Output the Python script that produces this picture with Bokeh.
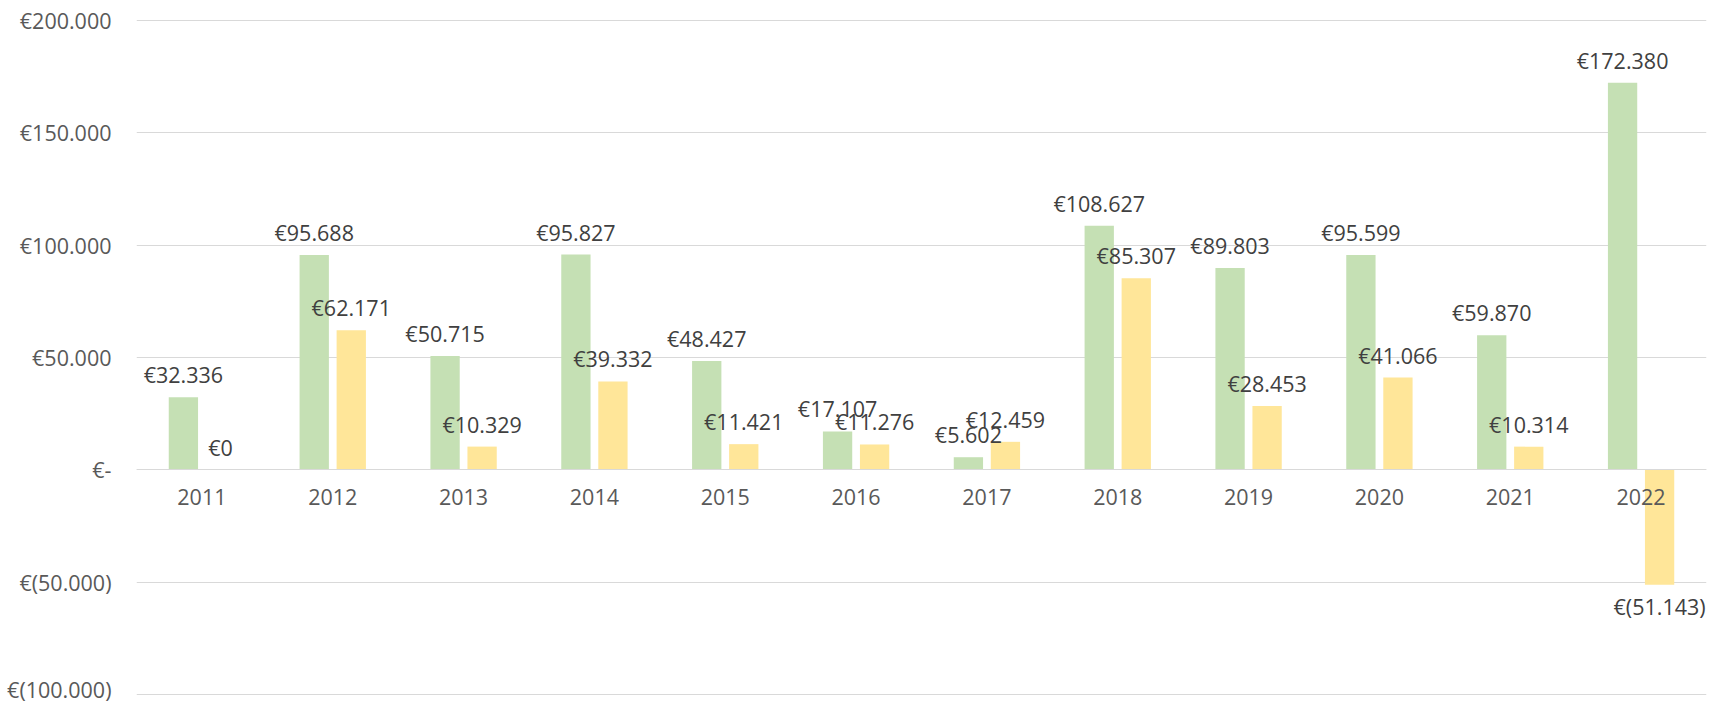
from bokeh.plotting import figure
from bokeh.models import ColumnDataSource, LabelSet, FixedTicker
from bokeh.transform import dodge
from bokeh.core.properties import value
from bokeh.embed import file_html
from bokeh.resources import INLINE

years = ["2011", "2012", "2013", "2014", "2015", "2016", "2017", "2018", "2019", "2020", "2021", "2022"]
series_green = [32336, 95688, 50715, 95827, 48427, 17107, 5602, 108627, 89803, 95599, 59870, 172380]
series_yellow = [0, 62171, 10329, 39332, 11421, 11276, 12459, 85307, 28453, 41066, 10314, -51143]
y_ticks = [-100000, -50000, 0, 50000, 100000, 150000, 200000]

GREEN = "#C5E0B4"
YELLOW = "#FFE699"
FONT = "Open Sans"
FS = "21.5px"


def eur(v):
    s = f"{abs(v):,}".replace(",", ".")
    if v < 0:
        return f"€({s})"
    if v == 0:
        return "€0"
    return f"€{s}"


def tick_label(v):
    if v == 0:
        return "€-"
    return eur(v)


def make_source(vals):
    return ColumnDataSource(dict(
        year=years,
        val=vals,
        lbl=[eur(v) for v in vals],
        off=[14 if v >= 0 else -30 for v in vals],
    ))


src_g = make_source(series_green)
src_y = make_source(series_yellow)

PPU = 112.3 / 50000.0  # pixels per unit
FH = 680
pad = (FH - 300000 * PPU) / 2 / PPU

p = figure(
    x_range=years, y_range=(-100000 - pad, 200000 + pad),
    frame_width=1570, frame_height=FH,
    min_border_left=136, min_border_right=10, min_border_top=17, min_border_bottom=6,
    output_backend="svg", toolbar_location=None,
)
p.outline_line_color = None
p.background_fill_color = "white"
p.border_fill_color = "white"

OFF = 0.1415
W = 0.224
p.vbar(x=dodge("year", -OFF, range=p.x_range), top="val", bottom=0, width=W,
       source=src_g, fill_color=GREEN, line_color=None)
p.vbar(x=dodge("year", OFF, range=p.x_range), top="val", bottom=0, width=W,
       source=src_y, fill_color=YELLOW, line_color=None)

for src, d in ((src_g, -OFF), (src_y, OFF)):
    p.add_layout(LabelSet(
        x=dodge("year", d, range=p.x_range), y="val", text="lbl", y_offset="off",
        source=src, text_align="center", text_baseline="alphabetic",
        text_font=value(FONT), text_font_size=value(FS), text_color="#404040",
    ))

# grid
p.xgrid.grid_line_color = None
p.ygrid.grid_line_color = "#d9d9d9"
p.ygrid.grid_line_width = 1.2
p.yaxis.ticker = FixedTicker(ticks=y_ticks)

# y axis
yax = p.yaxis[0]
yax.axis_line_color = None
yax.major_tick_line_color = None
yax.minor_tick_line_color = None
yax.major_label_standoff = 19
yax.major_label_text_font = FONT
yax.major_label_text_font_size = FS
yax.major_label_text_color = "#595959"
yax.major_label_overrides = {t: tick_label(t) for t in y_ticks}

# x axis at zero
xax = p.xaxis[0]
xax.fixed_location = 0
xax.axis_line_color = "#d9d9d9"
xax.axis_line_width = 1.2
xax.major_tick_line_color = None
xax.minor_tick_line_color = None
xax.major_label_standoff = 13
xax.major_label_text_font = FONT
xax.major_label_text_font_size = FS
xax.major_label_text_color = "#595959"

open("out.html", "w").write(file_html(p, INLINE))
